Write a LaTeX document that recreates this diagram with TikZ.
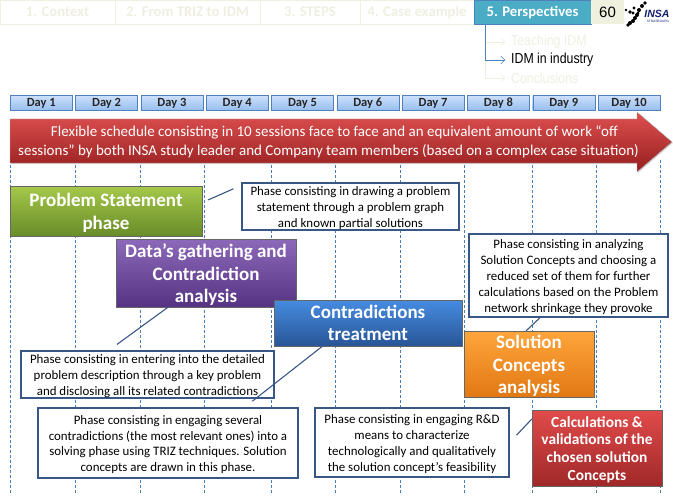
\documentclass[tikz,border=0pt]{standalone}
\usepackage{fontspec}
\setmainfont{Carlito}
\newfontfamily\menufont[FakeStretch=0.85]{Liberation Sans}
\newfontfamily\logofont{Liberation Sans}
\usetikzlibrary{calc,arrows.meta,shadows}
\definecolor{noteblue}{RGB}{56,87,135}
\definecolor{tabblue}{RGB}{75,172,198}
\definecolor{tabline}{RGB}{240,240,222}
\definecolor{tabtext}{RGB}{238,238,225}
\definecolor{dashblue}{RGB}{74,126,187}
\definecolor{menublue}{RGB}{79,129,189}
\definecolor{daytop}{RGB}{205,224,250}
\definecolor{daybot}{RGB}{150,190,240}
\definecolor{bannertop}{RGB}{222,80,80}
\definecolor{bannerbot}{RGB}{150,30,30}
\definecolor{greentop}{RGB}{165,200,75}
\definecolor{greenbot}{RGB}{105,140,40}
\definecolor{purpletop}{RGB}{140,105,185}
\definecolor{purplebot}{RGB}{85,50,130}
\definecolor{bluetop}{RGB}{70,140,225}
\definecolor{bluebot}{RGB}{40,85,150}
\definecolor{orangetop}{RGB}{255,165,60}
\definecolor{orangebot}{RGB}{225,120,20}
\definecolor{redtop}{RGB}{225,75,75}
\definecolor{redbot}{RGB}{160,40,40}
\definecolor{logoblue}{RGB}{20,30,110}
\newcommand{\notestrut}{\rule{0pt}{12pt}}
\newcommand{\phasestrut}{\rule{0pt}{17pt}}
\tikzset{
	daybox/.style={draw=menublue, top color=daytop, bottom color=daybot, minimum width=62pt, minimum height=15pt, inner sep=0pt, font=\fontsize{12.5}{12.5}\bfseries\selectfont, text=black!85},
	phase/.style={draw=black!60, drop shadow={shadow xshift=1pt, shadow yshift=-1pt, opacity=0.35}, align=center, inner sep=0pt, text=white, font=\fontsize{19}{22.5}\bfseries\selectfont},
	note/.style={draw=noteblue, line width=1.3pt, fill=white, align=center, inner sep=0pt, text=black, font=\fontsize{12.9}{15.9}\selectfont},
	lien/.style={draw=noteblue, line width=1.1pt},
	tabname/.style={draw=tabline, text=tabtext, minimum height=24pt, inner sep=0pt, font=\fontsize{14.7}{14.7}\bfseries\selectfont},
	menuitem/.style={anchor=west, inner sep=0pt, font=\menufont\fontsize{14.5}{14.5}\selectfont},
	menuarrow/.style={-{Straight Barb[length=4pt]}, shorten >=6pt},
}
\begin{document}
\begin{tikzpicture}[x=1pt, y=-1pt]

	\useasboundingbox (0,0) rectangle (673,503);

	% schedule grid
	\foreach \gx in {10,75,140,204,271,335,400,464,532,596,660}
		\draw[dashblue, densely dashed, thin] (\gx,160) -- (\gx,495);

	% top tabs
	\node[tabname, minimum width=115pt] (tabA) at (57.5,12) {1. Context};
	\node[tabname, minimum width=145pt] (tabB) at (187.5,12) {2. From TRIZ to IDM};
	\node[tabname, minimum width=100pt] (tabC) at (310,12) {3. STEPS};
	\node[tabname, minimum width=114pt] (tabD) at (417,12) {4. Case example};
	\node[tabname, draw=menublue, fill=tabblue, text=white, minimum width=117pt] (tabE) at (532.5,12) {5. Perspectives};
	\node[fill=tabline, minimum width=33pt, minimum height=24pt, inner sep=0pt, font=\logofont\fontsize{15}{15}\selectfont] (pagenum) at (607.5,12) {60};

	% logo
	\foreach \dx/\dy/\dr in {626/10/1.3,630/12/1.8,634/8/1.7,633/13/1.7,642/6/2,645/3/1.8,639/10/2,638/13/1.7,637/15/2,635/18/2,633/21/2,630/23/2,628/25/1.8}
		\fill[black] (\dx,\dy) circle (\dr);
	\node[inner sep=0pt, text=logoblue, font=\logofont\fontsize{10.5}{10.5}\bfseries\itshape\selectfont] (logo) at (657,13.5) {INSA};
	\node[inner sep=0pt, text=logoblue, font=\logofont\fontsize{3.2}{3.2}\selectfont] (logocity) at (658,21) {STRASBOURG};

	% menu
	\coordinate (menuA) at (485,42);
	\coordinate (menuB) at (485,60);
	\coordinate (menuC) at (485,78);
	\node[menuitem, text=tabtext] (teach) at (511,42) {Teaching IDM};
	\node[menuitem, text=tabtext] (concl) at (511,78) {Conclusions};
	\node[menuitem, text=black] (indus) at (511,60) {IDM in industry};
	\draw[tabline, menuarrow] (menuA) -- (teach.west);
	\draw[tabline, menuarrow] (menuB) -- (menuC) -- (concl.west);
	\draw[menublue, menuarrow] (tabE.south -| menuB) -- (menuB) -- (indus.west);

	% days
	\foreach \i in {1,...,10}
		\node[daybox] (day\i) at ({41.3+65.3*(\i-1)},103) {Day \i};

	% banner
	\shade[top color=bannertop, bottom color=bannerbot, draw=white!70!black, drop shadow={shadow xshift=1pt, shadow yshift=-1pt, opacity=0.3}]
		(10,119) -- (637,119) -- (637,112) -- (672,142) -- (637,172) -- (637,163) -- (10,163) -- cycle;
	\node[align=center, inner sep=0pt, text=white, font=\fontsize{15}{18.5}\selectfont] (banner) at (328.5,142) {\hspace*{12pt}Flexible schedule consisting in 10 sessions face to face and an equivalent amount of work ``off\\sessions'' by both INSA study leader and Company team members (based on a complex case situation)};

	% phases
	\node[phase, top color=greentop, bottom color=greenbot, minimum width=192pt, minimum height=50pt] (pb) at (106,211) {\phasestrut Problem Statement\\phase};
	\node[phase, top color=purpletop, bottom color=purplebot, minimum width=180pt, minimum height=68pt] (data) at (206,273) {\phasestrut Data's gathering and\\Contradiction\\analysis};
	\node[phase, top color=bluetop, bottom color=bluebot, minimum width=188pt, minimum height=46pt] (treat) at (368,323) {Contradictions\\treatment};
	\node[phase, top color=orangetop, bottom color=orangebot, minimum width=130pt, minimum height=66pt] (sol) at (529,364) {\phasestrut Solution\\Concepts\\analysis};
	\node[phase, top color=redtop, bottom color=redbot, minimum width=130pt, minimum height=76pt, font=\fontsize{15.4}{17.7}\bfseries\selectfont] (calc) at (597,448) {\notestrut\rule{0pt}{14pt}Calculations \&\\validations of the\\chosen solution\\Concepts};

	% notes
	\node[note, minimum width=217pt, minimum height=47pt] (noteA) at (350.5,206.5) {\notestrut Phase consisting in drawing a problem\\statement through a problem graph\\and known partial solutions};
	\node[note, minimum width=253pt, minimum height=47pt] (noteB) at (147.5,374.5) {\notestrut Phase consisting in entering into the detailed\\problem description through a key problem\\and disclosing all its related contradictions};
	\node[note, minimum width=260pt, minimum height=70pt] (noteC) at (168,443) {\notestrut Phase consisting in engaging several\\contradictions (the most relevant ones) into a\\solving phase using TRIZ techniques. Solution\\concepts are drawn in this phase.};
	\node[note, minimum width=199pt, minimum height=83pt] (noteD) at (568.5,275.5) {\notestrut Phase consisting in analyzing\\Solution Concepts and choosing a\\reduced set of them for further\\calculations based on the Problem\\network shrinkage they provoke};
	\node[note, minimum width=194pt, minimum height=69pt] (noteE) at (412,442.5) {\notestrut Phase consisting in engaging R\&D\\means to characterize\\technologically and qualitatively\\the solution concept's feasibility};

	% links
	\draw[lien, shorten <=6.5pt, shorten >=8.7pt] (pb.5) -- (noteA.169);
	\draw[lien, shorten >=10pt] (data.222.6) -- (noteB.148);
	\draw[lien, shorten >=10pt] (treat.207) -- (noteC.25.3);
	\draw[lien] (noteD.236.5) -- (sol.95);
	\draw[lien, shorten <=10pt] (noteE.east) -- (calc.156);

\end{tikzpicture}
\end{document}
